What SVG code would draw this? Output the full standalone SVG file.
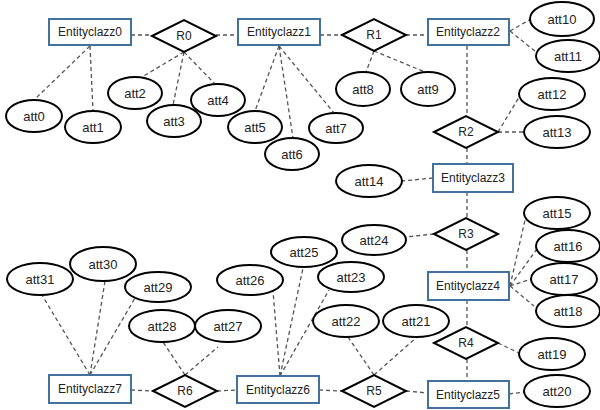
<svg xmlns="http://www.w3.org/2000/svg" width="600" height="410" viewBox="0 0 600 410">
<style>
.ent{fill:#fff;stroke:#41719c;stroke-width:2}
.rel{fill:#fff;stroke:#000;stroke-width:2}
.att{fill:#fff;stroke:#000;stroke-width:2}
.lk{stroke:#555;stroke-width:1.3;stroke-dasharray:4,3;fill:none}
text{font-family:"Liberation Sans",Arial,sans-serif;fill:#222;text-anchor:middle}
.te{font-size:12px}
.ta{font-size:13px}
</style>
<rect width="600" height="410" fill="#fff"/>
<g id="connectors">
<line class="lk" x1="131" y1="35" x2="152" y2="35"/>
<line class="lk" x1="216" y1="35" x2="238" y2="35"/>
<line class="lk" x1="320" y1="35" x2="342" y2="35"/>
<line class="lk" x1="406" y1="35" x2="428" y2="35"/>
<line class="lk" x1="90" y1="46" x2="35" y2="99"/>
<line class="lk" x1="90" y1="46" x2="93" y2="111"/>
<line class="lk" x1="184" y1="52" x2="142" y2="77"/>
<line class="lk" x1="184" y1="52" x2="173" y2="105"/>
<line class="lk" x1="184" y1="52" x2="215" y2="84"/>
<line class="lk" x1="279" y1="46" x2="255" y2="111"/>
<line class="lk" x1="279" y1="46" x2="293" y2="138"/>
<line class="lk" x1="279" y1="46" x2="334" y2="113"/>
<line class="lk" x1="374" y1="51" x2="366" y2="72"/>
<line class="lk" x1="374" y1="51" x2="425" y2="72"/>
<line class="lk" x1="510" y1="31" x2="531" y2="19"/>
<line class="lk" x1="510" y1="31" x2="536" y2="52"/>
<line class="lk" x1="467" y1="46" x2="467" y2="116"/>
<line class="lk" x1="467" y1="148" x2="467" y2="164"/>
<line class="lk" x1="498" y1="132" x2="521" y2="94"/>
<line class="lk" x1="498" y1="132" x2="524" y2="132"/>
<line class="lk" x1="433" y1="178" x2="402" y2="181"/>
<line class="lk" x1="467" y1="192" x2="467" y2="218"/>
<line class="lk" x1="434" y1="234" x2="406" y2="237"/>
<line class="lk" x1="467" y1="250" x2="467" y2="272"/>
<line class="lk" x1="510" y1="286" x2="525" y2="220"/>
<line class="lk" x1="510" y1="286" x2="537" y2="249"/>
<line class="lk" x1="510" y1="286" x2="531" y2="279"/>
<line class="lk" x1="510" y1="286" x2="534" y2="306"/>
<line class="lk" x1="467" y1="300" x2="467" y2="327"/>
<line class="lk" x1="467" y1="359" x2="467" y2="381"/>
<line class="lk" x1="498" y1="343" x2="519" y2="353"/>
<line class="lk" x1="509" y1="394" x2="524" y2="392"/>
<line class="lk" x1="406" y1="391" x2="428" y2="393"/>
<line class="lk" x1="319" y1="390" x2="342" y2="391"/>
<line class="lk" x1="374" y1="375" x2="348" y2="337"/>
<line class="lk" x1="374" y1="375" x2="417" y2="337"/>
<line class="lk" x1="280" y1="376" x2="273" y2="291"/>
<line class="lk" x1="280" y1="376" x2="303" y2="268"/>
<line class="lk" x1="280" y1="376" x2="329" y2="290"/>
<line class="lk" x1="90" y1="375" x2="42" y2="295"/>
<line class="lk" x1="90" y1="375" x2="105" y2="281"/>
<line class="lk" x1="90" y1="375" x2="135" y2="298"/>
<line class="lk" x1="185" y1="375" x2="163" y2="342"/>
<line class="lk" x1="185" y1="375" x2="218" y2="347"/>
<line class="lk" x1="131" y1="390" x2="153" y2="391"/>
<line class="lk" x1="217" y1="391" x2="237" y2="390"/>
</g>
<g id="Entityclazz0"><rect class="ent" x="49" y="19" width="82" height="26"/><text class="te" x="90" y="36">Entityclazz0</text></g>
<g id="Entityclazz1"><rect class="ent" x="238" y="19" width="82" height="26"/><text class="te" x="279" y="36">Entityclazz1</text></g>
<g id="Entityclazz2"><rect class="ent" x="428" y="19" width="81" height="26"/><text class="te" x="468" y="36">Entityclazz2</text></g>
<g id="Entityclazz3"><rect class="ent" x="433" y="164" width="80" height="28"/><text class="te" x="473" y="182">Entityclazz3</text></g>
<g id="Entityclazz4"><rect class="ent" x="428" y="272" width="81" height="28"/><text class="te" x="468" y="290">Entityclazz4</text></g>
<g id="Entityclazz5"><rect class="ent" x="428" y="381" width="81" height="27"/><text class="te" x="468" y="399">Entityclazz5</text></g>
<g id="Entityclazz6"><rect class="ent" x="237" y="376" width="82" height="27"/><text class="te" x="278" y="394">Entityclazz6</text></g>
<g id="Entityclazz7"><rect class="ent" x="49" y="375" width="82" height="28"/><text class="te" x="90" y="393">Entityclazz7</text></g>
<g id="R0"><polygon class="rel" points="152,36 184,20 216,36 184,52"/><text class="te" x="184" y="40">R0</text></g>
<g id="R1"><polygon class="rel" points="342,35 374,19 406,35 374,51"/><text class="te" x="374" y="39">R1</text></g>
<g id="R2"><polygon class="rel" points="434,132 466,116 498,132 466,148"/><text class="te" x="466" y="136">R2</text></g>
<g id="R3"><polygon class="rel" points="434,234 466,218 498,234 466,250"/><text class="te" x="466" y="238">R3</text></g>
<g id="R4"><polygon class="rel" points="434,343 466,327 498,343 466,359"/><text class="te" x="466" y="347">R4</text></g>
<g id="R5"><polygon class="rel" points="342,391 374,375 406,391 374,407"/><text class="te" x="374" y="395">R5</text></g>
<g id="R6"><polygon class="rel" points="153,391 185,375 217,391 185,407"/><text class="te" x="185" y="395">R6</text></g>
<g id="att0"><ellipse class="att" cx="34" cy="116" rx="28" ry="16"/><text class="ta" x="34" y="121">att0</text></g>
<g id="att1"><ellipse class="att" cx="93" cy="127" rx="28" ry="16"/><text class="ta" x="93" y="132">att1</text></g>
<g id="att2"><ellipse class="att" cx="135" cy="93" rx="27" ry="16"/><text class="ta" x="135" y="98">att2</text></g>
<g id="att3"><ellipse class="att" cx="174" cy="121" rx="27" ry="16"/><text class="ta" x="174" y="126">att3</text></g>
<g id="att4"><ellipse class="att" cx="218" cy="100" rx="27" ry="16"/><text class="ta" x="218" y="105">att4</text></g>
<g id="att5"><ellipse class="att" cx="255" cy="127" rx="27" ry="16"/><text class="ta" x="255" y="132">att5</text></g>
<g id="att6"><ellipse class="att" cx="292" cy="154" rx="27" ry="16"/><text class="ta" x="292" y="159">att6</text></g>
<g id="att7"><ellipse class="att" cx="336" cy="128" rx="27" ry="15"/><text class="ta" x="336" y="133">att7</text></g>
<g id="att8"><ellipse class="att" cx="363" cy="89" rx="27" ry="17"/><text class="ta" x="363" y="94">att8</text></g>
<g id="att9"><ellipse class="att" cx="428" cy="89" rx="27" ry="17"/><text class="ta" x="428" y="94">att9</text></g>
<g id="att10"><ellipse class="att" cx="562" cy="19" rx="32" ry="17"/><text class="ta" x="562" y="24">att10</text></g>
<g id="att11"><ellipse class="att" cx="568" cy="56" rx="32" ry="16"/><text class="ta" x="568" y="61">att11</text></g>
<g id="att12"><ellipse class="att" cx="552" cy="94" rx="33" ry="16"/><text class="ta" x="552" y="99">att12</text></g>
<g id="att13"><ellipse class="att" cx="557" cy="132" rx="33" ry="16"/><text class="ta" x="557" y="137">att13</text></g>
<g id="att14"><ellipse class="att" cx="369" cy="181" rx="33" ry="16"/><text class="ta" x="369" y="186">att14</text></g>
<g id="att15"><ellipse class="att" cx="557" cy="213" rx="33" ry="16"/><text class="ta" x="557" y="218">att15</text></g>
<g id="att16"><ellipse class="att" cx="568" cy="246" rx="32" ry="16"/><text class="ta" x="568" y="251">att16</text></g>
<g id="att17"><ellipse class="att" cx="564" cy="279" rx="33" ry="16"/><text class="ta" x="564" y="284">att17</text></g>
<g id="att18"><ellipse class="att" cx="568" cy="311" rx="32" ry="16"/><text class="ta" x="568" y="316">att18</text></g>
<g id="att19"><ellipse class="att" cx="552" cy="354" rx="33" ry="16"/><text class="ta" x="552" y="359">att19</text></g>
<g id="att20"><ellipse class="att" cx="557" cy="391" rx="33" ry="16"/><text class="ta" x="557" y="396">att20</text></g>
<g id="att21"><ellipse class="att" cx="416" cy="321" rx="33" ry="16"/><text class="ta" x="416" y="326">att21</text></g>
<g id="att22"><ellipse class="att" cx="346" cy="321" rx="33" ry="16"/><text class="ta" x="346" y="326">att22</text></g>
<g id="att23"><ellipse class="att" cx="351" cy="277" rx="33" ry="15"/><text class="ta" x="351" y="282">att23</text></g>
<g id="att24"><ellipse class="att" cx="374" cy="240" rx="32" ry="15"/><text class="ta" x="374" y="245">att24</text></g>
<g id="att25"><ellipse class="att" cx="304" cy="252" rx="33" ry="15"/><text class="ta" x="304" y="257">att25</text></g>
<g id="att26"><ellipse class="att" cx="250" cy="280" rx="33" ry="15"/><text class="ta" x="250" y="285">att26</text></g>
<g id="att27"><ellipse class="att" cx="228" cy="326" rx="33" ry="16"/><text class="ta" x="228" y="331">att27</text></g>
<g id="att28"><ellipse class="att" cx="162" cy="326" rx="33" ry="16"/><text class="ta" x="162" y="331">att28</text></g>
<g id="att29"><ellipse class="att" cx="158" cy="287" rx="33" ry="15"/><text class="ta" x="158" y="292">att29</text></g>
<g id="att30"><ellipse class="att" cx="103" cy="264" rx="33" ry="17"/><text class="ta" x="103" y="269">att30</text></g>
<g id="att31"><ellipse class="att" cx="40" cy="279" rx="33" ry="16"/><text class="ta" x="40" y="284">att31</text></g>
</svg>
